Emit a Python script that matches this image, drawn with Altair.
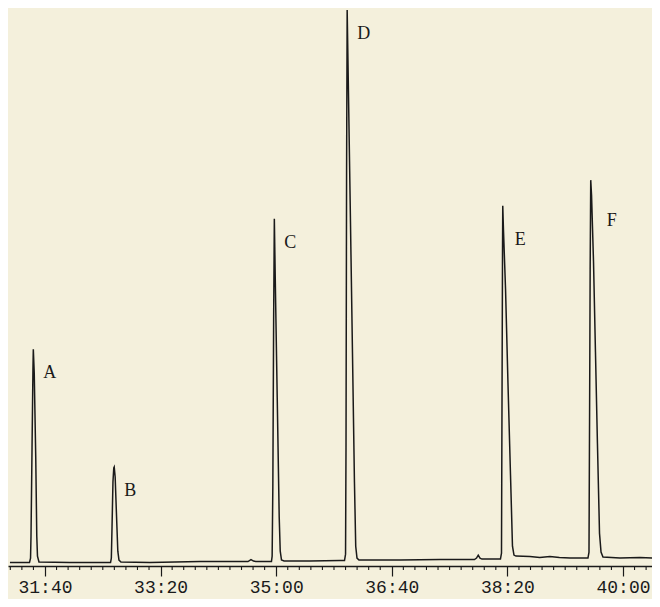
import altair as alt
import pandas as pd

# Retention time in seconds, detector signal in arbitrary units
trace_time = [
    1869.7, 1886.6, 1887.5, 1887.9, 1888.8, 1889.6, 1889.9, 1890.7, 1892.0, 1892.9, 1893.5, 1894.8,
    1921.6, 1947.6,
    1956.7, 1957.4, 1958.0, 1958.8, 1959.5, 1959.9, 1960.7, 1961.9, 1963.0, 1964.0, 1965.7,
    1990.8, 2034.1, 2068.7, 2075.6, 2078.2, 2080.4, 2082.5, 2092.9,
    2095.9, 2096.5, 2097.1, 2097.8, 2098.4, 2099.2, 2100.9, 2102.6, 2103.5, 2104.6, 2106.8,
    2129.2, 2155.2,
    2159.1, 2160.0, 2160.4, 2160.9, 2161.4, 2162.5, 2164.3, 2166.0, 2167.7, 2168.8, 2169.9, 2171.6,
    2207.1, 2241.7, 2267.6, 2271.5, 2273.3, 2274.8, 2276.3, 2278.0, 2289.3,
    2294.0, 2294.9, 2295.3, 2295.8, 2296.0, 2296.6, 2298.4, 2300.5, 2302.7, 2304.4, 2305.7, 2307.4,
    2319.5, 2328.0, 2336.8, 2345.0, 2354.2, 2367.1,
    2369.7, 2370.6, 2371.1, 2371.6, 2372.1, 2372.8, 2374.5, 2376.2, 2377.9, 2379.7, 2381.0, 2382.7,
    2397.4, 2414.7, 2432.0,
]
trace_signal = [
    3.5, 3.5, 8, 30, 120, 200, 219, 195, 110, 30, 10, 4,
    3.5, 3.5,
    3.5, 8, 40, 85, 99, 100, 90, 50, 15, 6, 4,
    3.5, 4.5, 4.5, 4.5, 6.5, 5, 4.5, 4.5,
    4.5, 10, 80, 250, 351, 290, 170, 50, 15, 6, 5,
    5, 5.5,
    5.5, 12, 120, 400, 562, 480, 345, 215, 85, 20, 8, 6,
    6, 6.5, 6.5, 6.5, 8, 11, 8, 7, 7,
    7, 13, 150, 320, 364, 340, 280, 185, 92, 20, 11, 10,
    9.5, 8.5, 9.5, 8.5, 8, 8,
    8, 14, 150, 300, 390, 375, 308, 216, 124, 33, 14, 9,
    8, 8.5, 8,
]
assert len(trace_time) == len(trace_signal)

peak_labels = ["A", "B", "C", "D", "E", "F"]
peak_time = [1889.9, 1959.9, 2098.4, 2161.4, 2296.0, 2372.1]
peak_signal = [219, 100, 351, 562, 364, 390]

time_domain = [1868.0, 2425.1]
signal_domain = [0, 564]
major_ticks = [1900, 2000, 2100, 2200, 2300, 2400]
minor_ticks = [t for t in range(1870, 2421, 10) if t % 100 != 0]

trace_df = pd.DataFrame({"time": trace_time, "signal": trace_signal})
peak_df = pd.DataFrame({"time": peak_time, "signal": peak_signal, "label": peak_labels})
minor_df = pd.DataFrame({"time": minor_ticks})

W, H = 644, 558
ink = "#1a1a1a"
label_expr = (
    "floor(datum.value / 60) + ':' + "
    "(datum.value % 60 < 10 ? '0' : '') + (datum.value % 60)"
)

x_enc = alt.X(
    "time:Q",
    title=None,
    scale=alt.Scale(domain=time_domain, nice=False, zero=False),
    axis=alt.Axis(
        values=major_ticks,
        labelExpr=label_expr,
        tickSize=10,
        tickColor=ink,
        tickWidth=1.2,
        domainColor=ink,
        domainWidth=1.5,
        labelFont="Liberation Mono",
        labelFontSize=18,
        labelColor=ink,
        labelPadding=2,
        labelOverlap=False,
        labelFlush=False,
        grid=False,
    ),
)
y_enc = alt.Y("signal:Q", title=None, scale=alt.Scale(domain=signal_domain, nice=False), axis=None)

line = alt.Chart(trace_df).mark_line(color=ink, strokeWidth=1.5, clip=True).encode(x=x_enc, y=y_enc)

minor = alt.Chart(minor_df).mark_rule(color=ink, strokeWidth=1.1).encode(
    x=alt.X("time:Q", title=None),
    y=alt.value(H),
    y2=alt.value(H + 4),
)

def labels(cond, dx, dy):
    return (
        alt.Chart(peak_df)
        .transform_filter(cond)
        .mark_text(
            align="left",
            baseline="alphabetic",
            dx=dx,
            dy=dy,
            font="Liberation Serif",
            fontSize=18,
            color=ink,
        )
        .encode(x=alt.X("time:Q", title=None), y=alt.Y("signal:Q", title=None), text="label:N")
    )

chart = (
    alt.layer(
        line,
        minor,
        labels("datum.label != 'E' && datum.label != 'F'", 10, 29),
        labels("datum.label == 'E'", 12, 39),
        labels("datum.label == 'F'", 16, 46),
    )
    .properties(
        width=W,
        height=H,
        padding={"left": 0, "top": 0, "right": 0, "bottom": 33},
        autosize=alt.AutoSizeParams(type="none"),
        background="#f4f0dc",
    )
    .configure_view(stroke=None)
)
chart.save("out.html", embed_options={"renderer": "svg", "actions": False})
